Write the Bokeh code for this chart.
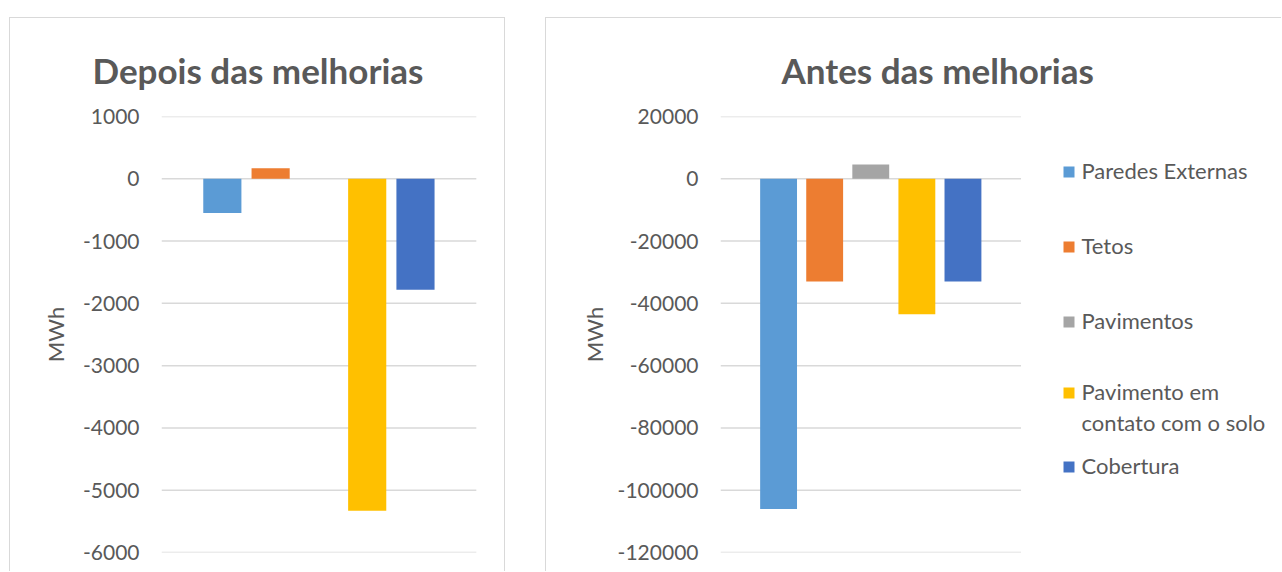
from bokeh.plotting import figure
from bokeh.models import Range1d, FixedTicker, Label, BoxAnnotation, Title
from bokeh.layouts import row
from bokeh.embed import file_html
from bokeh.resources import INLINE

# ---- data ----
series = ["Paredes Externas", "Tetos", "Pavimentos", "Pavimento em contato com o solo", "Cobertura"]
legend_lines = [["Paredes Externas"], ["Tetos"], ["Pavimentos"], ["Pavimento em", "contato com o solo"], ["Cobertura"]]
colors = ["#5B9BD5", "#ED7D31", "#A5A5A5", "#FFC000", "#4472C4"]
depois_values = [-550, 170, 0, -5330, -1780]
antes_values = [-106000, -33000, 4600, -43500, -33000]
depois_ticks = [1000, 0, -1000, -2000, -3000, -4000, -5000, -6000]
antes_ticks = [20000, 0, -20000, -40000, -60000, -80000, -100000, -120000]
titles = ["Depois das melhorias", "Antes das melhorias"]
y_label = "MWh"

FONT = "Lato"
TXT = "#595959"
GRID = "#D9D9D9"

x_pos = list(range(len(series)))   # one cluster, one slot per series
x_lo, x_hi = -1.26, 5.26           # extent of the plot area (gridlines)


def style_axis(p, ticks, label_standoff):
    ax = p.yaxis[0]
    ax.ticker = FixedTicker(ticks=ticks)
    ax.major_label_overrides = {t: str(t) for t in ticks}
    ax.axis_line_color = None
    ax.major_tick_line_color = None
    ax.minor_tick_line_color = None
    ax.major_tick_out = 0
    ax.major_tick_in = 0
    ax.major_label_standoff = 22
    ax.major_label_text_font = FONT
    ax.major_label_text_font_size = "21px"
    ax.major_label_text_color = TXT
    ax.axis_label = y_label
    ax.axis_label_text_font = FONT
    ax.axis_label_text_font_style = "normal"
    ax.axis_label_text_font_size = "22px"
    ax.axis_label_text_color = TXT
    ax.axis_label_standoff = label_standoff
    p.xaxis.visible = False
    p.xgrid.grid_line_color = None
    p.ygrid.grid_line_color = None
    p.outline_line_color = None
    p.segment(x0=[x_lo] * len(ticks), x1=[x_hi] * len(ticks), y0=ticks, y1=ticks,
              line_color=GRID, line_width=1.5)


def add_title(p, text, offset):
    p.add_layout(Title(text=text, align="left", offset=offset, text_font=FONT,
                       text_font_size="35px", text_font_style="bold", text_color=TXT,
                       vertical_align="bottom", standoff=52), "above")


def make_chart(values, ticks, width, frame_w, min_left, margin_left, styles, label_standoff, bar_w,
               title, title_offset, n_borders):
    content_w = width - n_borders
    p = figure(
        x_range=Range1d(x_lo, x_lo + (x_hi - x_lo) * (content_w - min_left) / frame_w),
        y_range=Range1d(min(ticks), max(ticks)),
        width=width, height=554,
        min_border_left=min_left, min_border_right=0, min_border_top=98, min_border_bottom=20,
        output_backend="svg", toolbar_location=None,
        margin=(17, 0, 0, margin_left), styles=styles,
    )
    style_axis(p, ticks, label_standoff)
    p.vbar(x=x_pos, top=values, width=bar_w, color=colors, line_color=None)
    add_title(p, title, title_offset)
    return p


# ---- left chart: Depois das melhorias ----
left = make_chart(depois_values, depois_ticks, 496, 313, 151, 9,
                  {"border": "1px solid #D9D9D9", "border-bottom": "none"}, 11, 0.79,
                  titles[0], -69, 2)

# ---- right chart: Antes das melhorias (frame extends under the legend) ----
right = make_chart(antes_values, antes_ticks, 736, 300, 174, 40,
                   {"border": "1px solid #D9D9D9", "border-bottom": "none", "border-right": "none"},
                   7, 0.8, titles[1], 61, 1)

# manual legend (screen units relative to the plot frame)
line_y = [[382], [307], [232], [161, 130], [87]]
for lines, ys, c in zip(legend_lines, line_y, colors):
    right.add_layout(BoxAnnotation(left=343, right=354, bottom=ys[0] - 7, top=ys[0] + 4,
                                   left_units="screen", right_units="screen",
                                   bottom_units="screen", top_units="screen",
                                   fill_color=c, fill_alpha=1, line_color=None, line_alpha=0))
    for t, yy in zip(lines, ys):
        right.add_layout(Label(x=361, y=yy, x_units="screen", y_units="screen", text=t,
                               text_align="left", text_baseline="middle", text_font=FONT,
                               text_font_size="22px", text_color=TXT))

layout = row(left, right)
open("out.html", "w").write(file_html(layout, INLINE))
